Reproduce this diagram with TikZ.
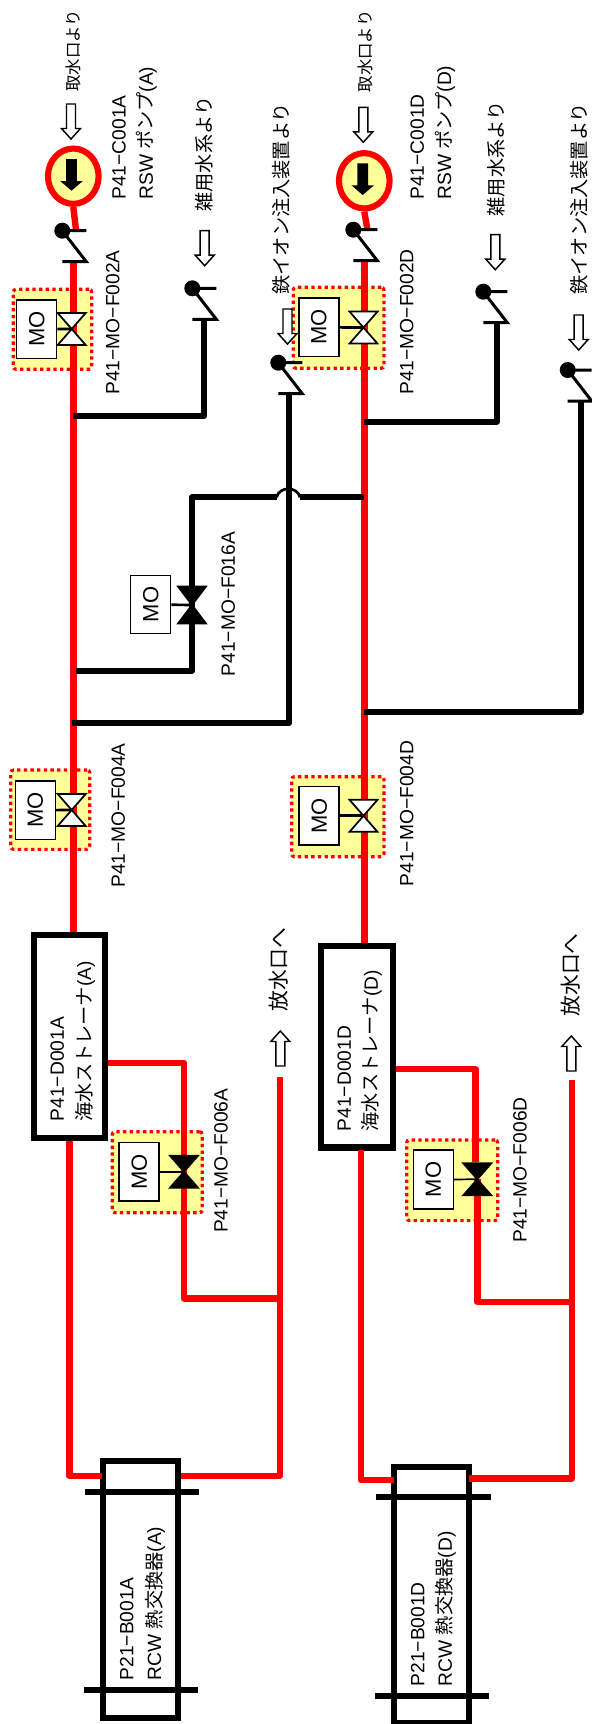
\documentclass[tikz,border=0pt]{standalone}
\usepackage{fontspec}
\setmainfont{Liberation Sans}
\newfontfamily\cjk{Noto Sans CJK JP}
\usetikzlibrary{shapes.geometric}

\tikzset{every picture/.style={line width=0.75pt}}
\tikzset{
  redpipe/.style={draw={rgb, 255:red, 255; green, 0; blue, 0 },line width=4.8pt,line join=round},
  blackpipe/.style={draw=black,line width=4.5pt,line join=round},
  stem/.style={draw=black,line width=2pt},
  yellowbox/.style={draw={rgb, 255:red, 255; green, 0; blue, 0 },fill={rgb, 255:red, 255; green, 255; blue, 153 },line width=2.4pt,dash pattern=on 2.5pt off 2.5pt,rounded corners=2pt,inner sep=0pt,outer sep=0pt},
  mobox/.style={draw=black,fill=white,line width=1.1pt,minimum width=30pt,minimum height=44pt,inner sep=0pt,font=\fontsize{16.5}{16.5}\selectfont},
  vessel/.style={draw=black,line width=4.6pt,inner sep=0pt},
  pumpbody/.style={ellipse,draw={rgb, 255:red, 255; green, 0; blue, 0 },fill={rgb, 255:red, 255; green, 255; blue, 153 },line width=4.6pt,minimum width=38pt,minimum height=41.5pt,inner sep=0pt},
  lbl/.style={rotate=90,anchor=west,inner sep=0pt,font=\fontsize{14.4}{14.4}\selectfont},
  lblsmall/.style={lbl,font=\fontsize{12.3}{12.3}\selectfont},
  bowtie/.pic={\draw [line width=1.3pt,fill=#1] (-14,-16) -- (14,-16) -- (-14,16) -- (14,16) -- cycle ;},
  tallbowtie/.pic={\draw [line width=1.3pt,fill=#1] (-14,-18.5) -- (14,-18.5) -- (-14,18.5) -- (14,18.5) -- cycle ;},
  chkvalve/.pic={\fill (0,0) circle (8); \draw [yscale=-1,line width=2.25pt] (0,0) -- (24,0) (0,0) -- (24,31) -- (0,31) ;},
  hollowarrow/.pic={\draw [yscale=#1,line width=1.1pt,fill=white] (-4.5,-36) -- (4.5,-36) -- (4.5,-11.5) -- (9.5,-11.5) -- (0,-1) -- (-9.5,-11.5) -- (-4.5,-11.5) -- cycle ;},
  pumparrow/.pic={\fill [yscale=-1] (-5.3,-31.7) -- (5.3,-31.7) -- (5.3,-9.7) -- (11.3,-9.7) -- (0,0) -- (-11.3,-9.7) -- (-5.3,-9.7) -- cycle ;}
}

\begin{document}
\begin{tikzpicture}[x=0.75pt,y=0.75pt,yscale=-1,xscale=1]
\useasboundingbox (0,0) rectangle (592,1724);

%Yellow Box
\node (yF002A) [yellowbox,minimum width=58.8pt,minimum height=60pt] at (52.5,329.3) {};
\node (yF004A) [yellowbox,minimum width=59.2pt,minimum height=59.5pt] at (50.3,809.7) {};
\node (yF006A) [yellowbox,minimum width=67.5pt,minimum height=60.7pt] at (157.3,1172.2) {};
\node (yF002D) [yellowbox,minimum width=68pt,minimum height=60.7pt] at (338.6,327.8) {};
\node (yF004D) [yellowbox,minimum width=69.2pt,minimum height=60pt] at (337.8,816.7) {};
\node (yF006D) [yellowbox,minimum width=68.2pt,minimum height=60.5pt] at (452.2,1180.3) {};

%Equipment
\node (pumpA) [pumpbody] at (73.3,176.2) {};
\node (pumpD) [pumpbody] at (364.3,180.8) {};
\node (strainerA) [vessel,fill=white,minimum width=53.25pt,minimum height=152pt] at (69.2,1036.7) {};
\node (strainerD) [vessel,fill=white,minimum width=53.85pt,minimum height=151.1pt] at (356.85,1046.7) {};
\node (exchA) [vessel,fill=white,minimum width=56.25pt,minimum height=192.3pt] at (140.5,1589.5) {};
\node (exchD) [vessel,fill=white,minimum width=56.5pt,minimum height=192pt] at (431.7,1595) {};

%Pipe Ends
\coordinate (chkinA) at (76,230);
\coordinate (chkinD) at (367.3,229);
\coordinate (mainA) at (73.3,262);
\coordinate (mainD) at (364.3,261);
\coordinate (vF002A) at (71.7,329);
\coordinate (vF004A) at (71.7,810);
\coordinate (vF016A) at (192,605);
\coordinate (vF006A) at (184,1171.7);
\coordinate (vF002D) at (363.5,327.6);
\coordinate (vF004D) at (363.5,815.8);
\coordinate (vF006D) at (477.3,1179.3);
\coordinate (teewaterA) at (72.5,415.7);
\coordinate (teewaterD) at (364,421.7);
\coordinate (teeironA) at (72.3,723.3);
\coordinate (teeironD) at (364,711.7);
\coordinate (teebypassA) at (76,670.7);
\coordinate (teebypassD) at (364,497.3);
\coordinate (jumpL) at (276.7,497.3);
\coordinate (jumpR) at (300,497.3);
\coordinate (chkwaterA) at (204.3,319);
\coordinate (chkwaterD) at (496.7,322.7);
\coordinate (chkironA) at (289,394);
\coordinate (chkironD) at (580.7,401);
\coordinate (outA) at (69.3,1141);
\coordinate (outD) at (360.7,1150);
\coordinate (exinA) at (101.7,1475.7);
\coordinate (exinD) at (394.3,1480);
\coordinate (exoutA) at (181,1475.7);
\coordinate (exoutD) at (469,1478.3);
\coordinate (dischA) at (280,1077.3);
\coordinate (dischD) at (571.7,1080);
\coordinate (brinA) at (107.5,1062.7);
\coordinate (brinD) at (396,1069);
\coordinate (brjoinA) at (280,1298.3);
\coordinate (brjoinD) at (571.7,1301.7);

%Red Pipes
\draw [redpipe] (pumpA.south) -- (chkinA) ;
\draw [redpipe] (pumpD.south) -- (chkinD) ;
\draw [redpipe] (mainA) -- (mainA |- strainerA.north) ;
\draw [redpipe] (mainD) -- (mainD |- strainerD.north) ;
\draw [redpipe] (outA) |- (exinA) ;
\draw [redpipe] (outD) |- (exinD) ;
\draw [redpipe] (dischA) |- (exoutA) ;
\draw [redpipe] (dischD) |- (exoutD) ;
\draw [redpipe] (brinA) -| (vF006A) ;
\draw [redpipe] (brinD) -| (475.3,1162) ;
\draw [redpipe] (vF006A) |- (brjoinA) ;
\draw [redpipe] (vF006D) |- (brjoinD) ;

%Black Pipes
\draw [blackpipe] (teewaterA) -| (chkwaterA) ;
\draw [blackpipe] (teewaterD) -| (chkwaterD) ;
\draw [blackpipe] (teeironA) -| (chkironA) ;
\draw [blackpipe] (teeironD) -| (chkironD) ;
\draw [blackpipe] (teebypassA) -| (vF016A) ;
\draw [blackpipe] (vF016A) |- (jumpL) ;
\draw [line width=2pt] (jumpL) .. controls (279,486) and (297.5,486) .. (jumpR) ;
\draw [blackpipe] (jumpR) -- (teebypassD) ;

%Heat Exchanger Bars
\draw [line width=4.5pt] (85,1491.7) -- (199.3,1491.7) ;
\draw [line width=4.5pt] (84.3,1690) -- (198.3,1690) ;
\draw [line width=4.5pt] (376,1497.3) -- (490.7,1497.3) ;
\draw [line width=4.5pt] (375,1695.7) -- (489.3,1695.7) ;

%Valves
\pic at (vF002A) {bowtie=white};
\pic at (vF004A) {bowtie=white};
\pic at (vF016A) {tallbowtie=black};
\pic at (vF006A) {bowtie=black};
\pic at (vF002D) {bowtie=white};
\pic at (vF004D) {bowtie=white};
\pic at (vF006D) {bowtie=black};

%MO Boxes
\node (moF002A) [mobox] at (36.7,329.2) {\rotatebox{90}{MO}};
\node (moF004A) [mobox] at (35.3,810.2) {\rotatebox{90}{MO}};
\node (moF016A) [mobox,line width=0.8pt] at (150.8,604.5) {\rotatebox{90}{MO}};
\node (moF006A) [mobox] at (139.2,1171.7) {\rotatebox{90}{MO}};
\node (moF002D) [mobox] at (318.8,327.2) {\rotatebox{90}{MO}};
\node (moF004D) [mobox] at (319.2,815.8) {\rotatebox{90}{MO}};
\node (moF006D) [mobox] at (433.3,1179.5) {\rotatebox{90}{MO}};

%Stems
\draw [stem] (moF002A) -- (vF002A) ;
\draw [stem] (moF004A) -- (vF004A) ;
\draw [stem] (moF016A) -- (vF016A) ;
\draw [stem,line width=1.3pt] (moF006A) -- (vF006A) ;
\draw [stem] (moF002D) -- (vF002D) ;
\draw [stem] (moF004D) -- (vF004D) ;
\draw [stem,line width=1.3pt] (moF006D) -- (vF006D) ;

%Check Valves
\pic at (62.3,230.7) {chkvalve};
\pic at (353.3,229.7) {chkvalve};
\pic at (192.3,288.3) {chkvalve};
\pic at (483.3,291.7) {chkvalve};
\pic at (278.3,362.7) {chkvalve};
\pic at (567.7,370) {chkvalve};

%Hollow Arrows
\pic at (71,140) {hollowarrow=-1};
\pic at (363.3,143.3) {hollowarrow=-1};
\pic at (204.7,266.7) {hollowarrow=-1};
\pic at (495.3,270.7) {hollowarrow=-1};
\pic at (287.5,345) {hollowarrow=-1};
\pic at (578.7,351) {hollowarrow=-1};
\pic at (280.3,1030) {hollowarrow=1};
\pic at (571.3,1035) {hollowarrow=1};

%Pump Arrows
\pic at (71.5,190.7) {pumparrow};
\pic at (362.7,195) {pumparrow};

% Text Node
\node (srcA) [lblsmall] at (73,92) {\cjk 取水口より};
\node (srcD) [lblsmall] at (365,92.7) {\cjk 取水口より};
\node (waterA) [lbl] at (204,212) {\cjk 雑用水系より};
\node (waterD) [lbl] at (496.7,216.7) {\cjk 雑用水系より};
\node (ironA) [lbl] at (281,295) {\cjk 鉄イオン注入装置より};
\node (ironD) [lbl] at (579.3,295) {\cjk 鉄イオン注入装置より};
\node (dischtxtA) [lbl,font=\fontsize{15.6}{15.6}\selectfont] at (278.3,1011.7) {\cjk 放水口へ};
\node (dischtxtD) [lbl,font=\fontsize{15.6}{15.6}\selectfont] at (571,1017) {\cjk 放水口へ};
% Text Node
\node (tagC001A) [lbl] at (119,200) {P41−C001A};
\node (namC001A) [lbl] at (146.7,200) {RSW {\cjk ポンプ}(A)};
\node (tagC001D) [lbl] at (417.3,200) {P41−C001D};
\node (namC001D) [lbl] at (445,200) {RSW {\cjk ポンプ}(D)};
% Text Node
\node (tagF002A) [lbl] at (112.7,395) {P41−MO−F002A};
\node (tagF004A) [lbl] at (118.3,888) {P41−MO−F004A};
\node (tagF016A) [lbl] at (228.3,676.7) {P41−MO−F016A};
\node (tagF006A) [lbl] at (221,1233.3) {P41−MO−F006A};
\node (tagF002D) [lbl] at (406.7,395) {P41−MO−F002D};
\node (tagF004D) [lbl] at (406.7,886.7) {P41−MO−F004D};
\node (tagF006D) [lbl] at (520,1243) {P41−MO−F006D};
% Text Node
\node (tagD001A) [lbl] at (57.3,1121.7) {P41−D001A};
\node (namD001A) [lbl] at (85,1121.7) {{\cjk 海水ストレーナ}(A)};
\node (tagD001D) [lbl] at (344.3,1131.7) {P41−D001D};
\node (namD001D) [lbl] at (371.7,1131.7) {{\cjk 海水ストレーナ}(D)};
% Text Node
\node (tagB001A) [lbl] at (126.7,1680.7) {P21−B001A};
\node (namB001A) [lbl] at (155,1680.7) {RCW {\cjk 熱交換器}(A)};
\node (tagB001D) [lbl] at (417.7,1686.7) {P21−B001D};
\node (namB001D) [lbl] at (445.7,1686.7) {RCW {\cjk 熱交換器}(D)};

\end{tikzpicture}
\end{document}
